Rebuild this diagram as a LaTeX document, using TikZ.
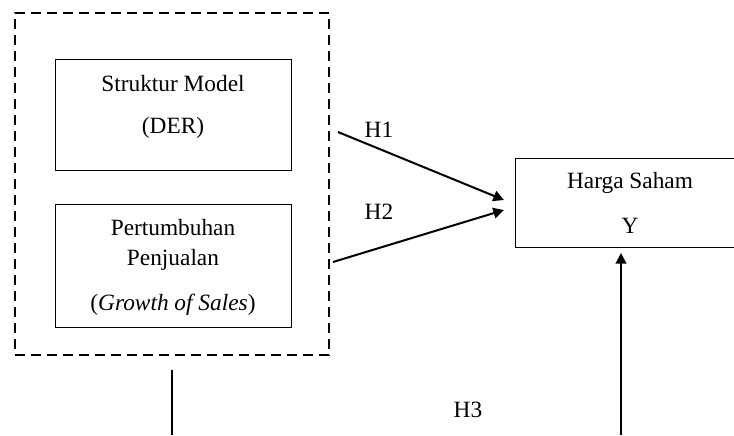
\documentclass[tikz,border=0pt]{standalone}
\usepackage{fontspec}
\setmainfont{Liberation Serif}
\usetikzlibrary{arrows.meta}

\tikzset{every picture/.style={line width=0.75pt}}

\begin{document}
\begin{tikzpicture}[x=0.75pt,y=0.75pt,yscale=-1,xscale=1,
		varbox/.style={draw, line width=0.75pt, inner sep=0pt},
		groupbox/.style={draw, dashed, dash pattern=on 7.5pt off 4.5pt, line width=1.5pt, inner sep=0pt},
		hyparrow/.style={line width=1.5pt, -{Triangle[length=8pt,width=8pt]}},
		lbl/.style={anchor=base, inner sep=0pt, font=\fontsize{17.5}{21}\selectfont}]
		\useasboundingbox (0,0) rectangle (734,435);

		% boxes
		\node [groupbox, minimum width=235.5pt, minimum height=256.5pt] (grp) at (172,184) {};
		\node [varbox, minimum width=177pt, minimum height=82.5pt] (der) at (173,115) {};
		\node [varbox, minimum width=177pt, minimum height=92.25pt] (gos) at (173,265.5) {};
		\node [varbox, minimum width=172.5pt, minimum height=66.75pt] (hs) at (630,202.5) {};

		% texts
		\node [lbl] (derA) at (173,91) {Struktur Model};
		\node [lbl] (derB) at (173,133) {(DER)};
		\node [lbl] (gosA) at (173,235) {Pertumbuhan};
		\node [lbl] (gosB) at (173,265) {Penjualan};
		\node [lbl] (gosC) at (173,310) {(\textit{Growth of Sales})};
		\node [lbl] (hsA) at (630,188) {Harga Saham};
		\node [lbl] (hsB) at (630,233) {Y};
		\node [lbl] (h1) at (379,137) {H1};
		\node [lbl] (h2) at (379,219) {H2};
		\node [lbl] (h3) at (468,417) {H3};

		% connectors
		\coordinate (h1s) at (338,132);
		\coordinate (h1e) at (504,200);
		\coordinate (h2s) at (333,262);
		\coordinate (h2e) at (504,210);
		\coordinate (h3s) at (621,435);
		\coordinate (h3e) at (621,253);
		\coordinate (lns) at (172,370);
		\coordinate (lne) at (172,435);
		\draw [hyparrow] (h1s) -- (h1e) ;
		\draw [hyparrow] (h2s) -- (h2e) ;
		\draw [hyparrow] (h3s) -- (h3e) ;
		\draw [line width=1.5pt] (lns) -- (lne) ;

\end{tikzpicture}
\end{document}
